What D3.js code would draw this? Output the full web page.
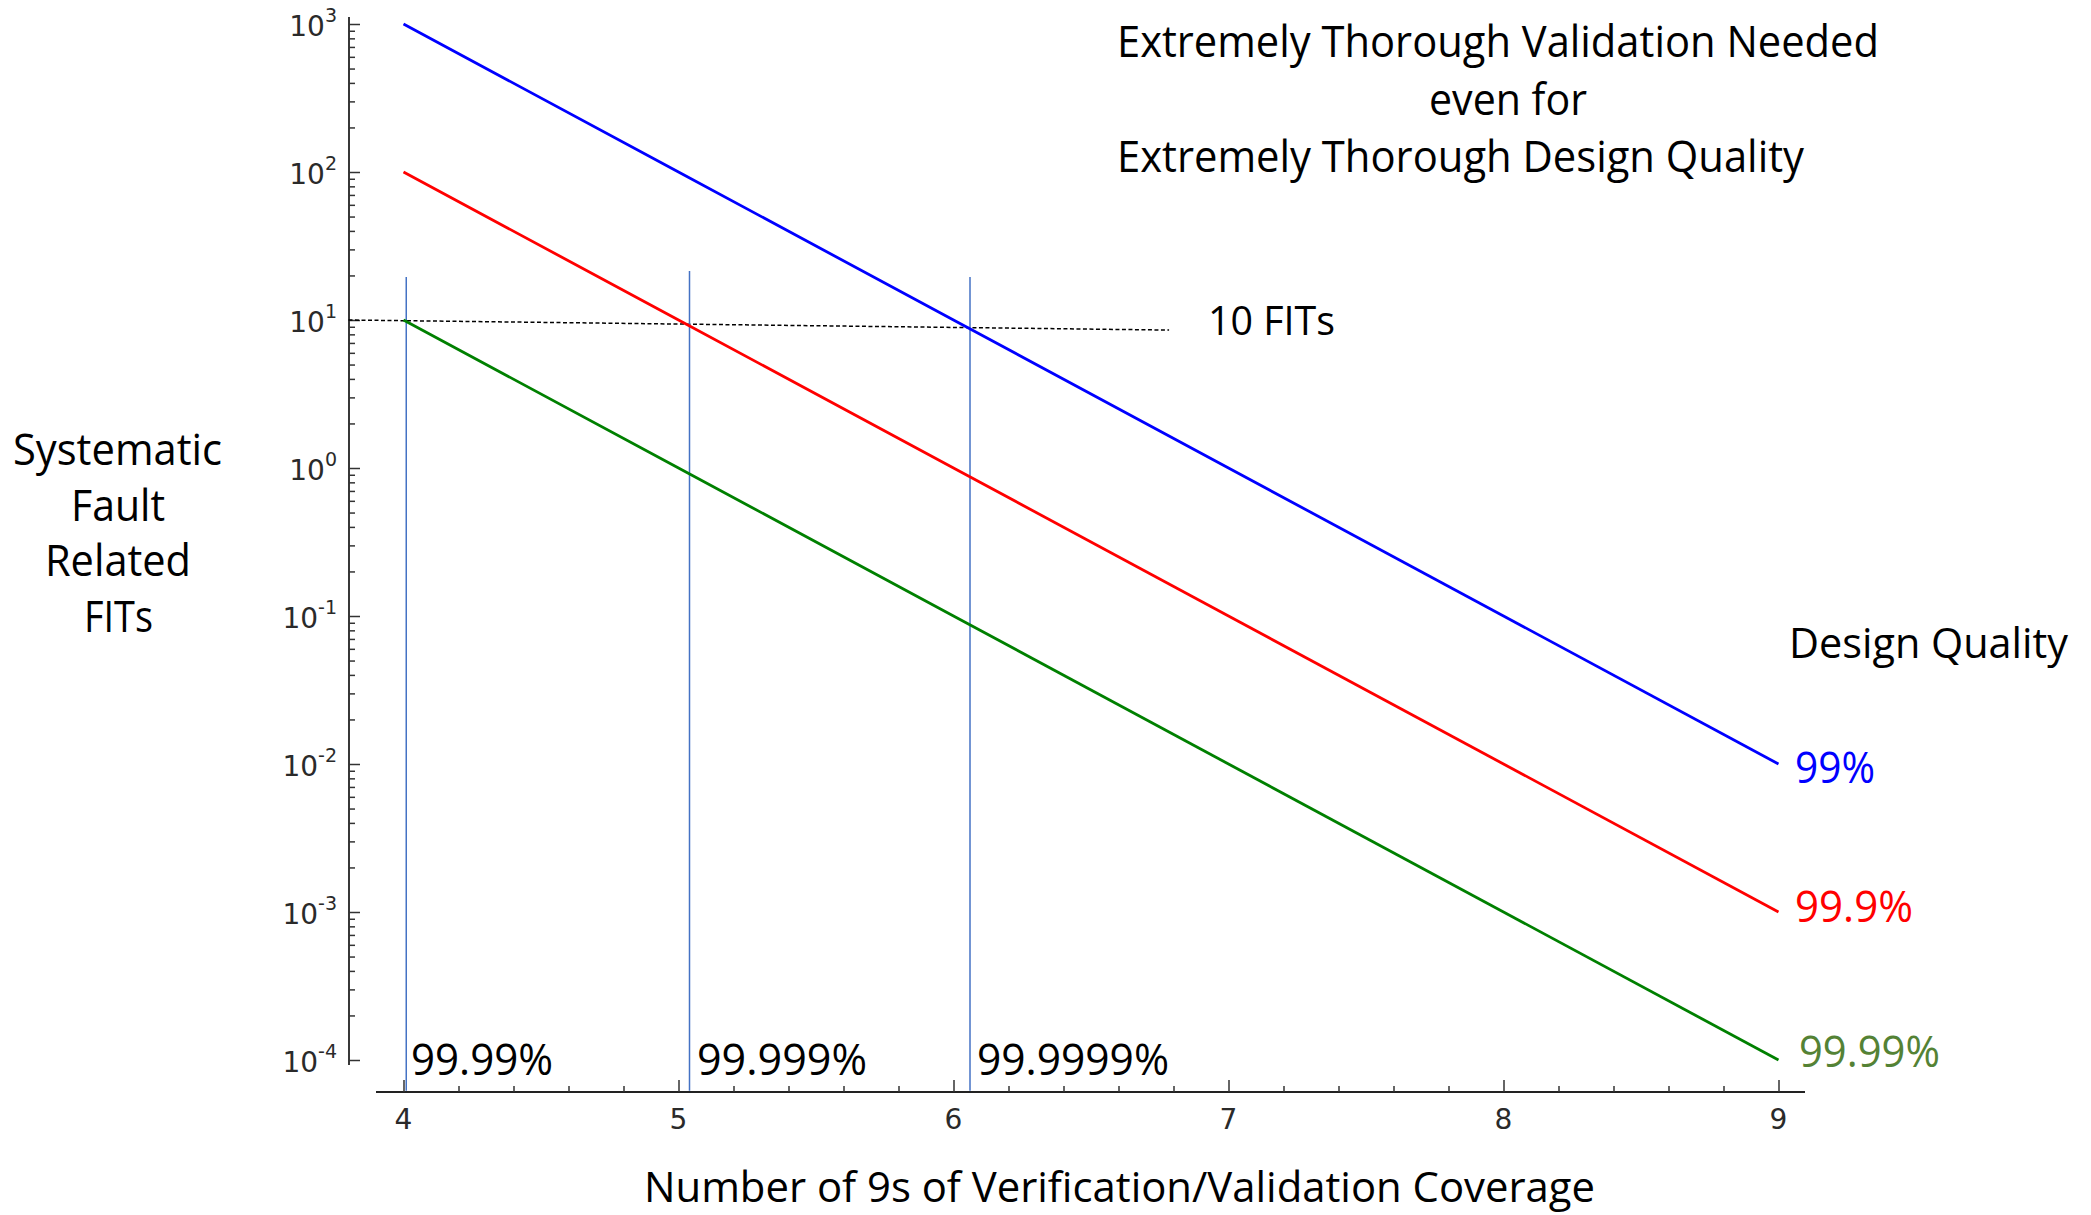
<!DOCTYPE html>
<html><head><meta charset="utf-8">
<script src="https://cdn.jsdelivr.net/npm/d3@7"></script>
<style>html,body{margin:0;padding:0;background:#fff;} svg{display:block}</style>
</head><body>
<script>
// ---- data ----
const coverageNines = [4, 5, 6, 7, 8, 9];
const designQualities = ["99%", "99.9%", "99.99%"];
const fits99 = [1000, 100, 10, 1, 0.1, 0.01];
const fits999 = [100, 10, 1, 0.1, 0.01, 0.001];
const fits9999 = [10, 1, 0.1, 0.01, 0.001, 0.0001];
const yTickExponents = [3, 2, 1, 0, -1, -2, -3, -4];
const xTickLabels = ["4", "5", "6", "7", "8", "9"];
const coverageLabels = ["99.99%", "99.999%", "99.9999%"];
const markerX = [4.01, 5.04, 6.06];
const markerTop = [19.5, 21.4, 19.5];
const markerBottom = 6.2e-5;
const fitLimitX = [3.80, 6.784];
const fitLimitY = [10, 8.55];

// ---- layout ----
const W = 2091, H = 1215;
const svg = d3.select("body").append("svg").attr("width", W).attr("height", H);
const x = d3.scaleLinear([4, 9], [403.5, 1778.5]);
const y = d3.scaleLog([1e-4, 1e3], [1060, 24]);
const AX = 349, AY = 1092;
const tickFont = "'DejaVu Sans', sans-serif";
const txtFont = "'Open Sans', sans-serif";

// axis lines
svg.append("line").attr("x1", AX).attr("x2", AX).attr("y1", 17).attr("y2", 1065)
  .attr("stroke", "#222").attr("stroke-width", 1.8);
svg.append("line").attr("x1", 376).attr("x2", 1805).attr("y1", AY).attr("y2", AY)
  .attr("stroke", "#222").attr("stroke-width", 1.8);

// y ticks
const majorY = yTickExponents.map(e => Math.pow(10, e));
const minorY = [];
for (let k = -4; k < 3; k++) for (let m = 2; m <= 9; m++) minorY.push(m * Math.pow(10, k));
function styleAxis(g) {
  g.select(".domain").remove();
  g.selectAll(".tick line").attr("stroke", "#333").attr("stroke-width", 1.5);
  g.selectAll(".tick text").remove();
}
svg.append("g").attr("transform", `translate(${AX},0)`)
  .call(d3.axisLeft(y).tickValues(majorY).tickSize(-11).tickFormat("")).call(styleAxis);
svg.append("g").attr("transform", `translate(${AX},0)`)
  .call(d3.axisLeft(y).tickValues(minorY).tickSize(-6).tickFormat("")).call(styleAxis);

// y tick labels
yTickExponents.forEach(e => {
  const t = svg.append("text").attr("x", 337).attr("y", y(Math.pow(10, e)) + 12)
    .attr("text-anchor", "end").attr("font-family", tickFont).attr("fill", "#2a2a2a");
  t.append("tspan").attr("font-size", 28).text("10");
  t.append("tspan").attr("font-size", 19).attr("dy", -14).text(String(e));
});

// x ticks
const minorX = d3.range(4, 9.001, 0.2).filter(v => Math.abs(v - Math.round(v)) > 1e-6);
svg.append("g").attr("transform", `translate(0,${AY})`)
  .call(d3.axisBottom(x).tickValues(coverageNines).tickSize(-12).tickFormat("")).call(styleAxis);
svg.append("g").attr("transform", `translate(0,${AY})`)
  .call(d3.axisBottom(x).tickValues(minorX).tickSize(-6).tickFormat("")).call(styleAxis);
coverageNines.forEach((v, i) => {
  svg.append("text").attr("x", x(v)).attr("y", 1129).attr("text-anchor", "middle")
    .attr("font-family", tickFont).attr("font-size", 28).attr("fill", "#2a2a2a").text(xTickLabels[i]);
});

// dashed 10 FIT line
svg.append("line")
  .attr("x1", x(fitLimitX[0])).attr("y1", y(fitLimitY[0]))
  .attr("x2", x(fitLimitX[1])).attr("y2", y(fitLimitY[1]))
  .attr("stroke", "#000").attr("stroke-width", 1.5).attr("stroke-dasharray", "4,2.5");

// vertical markers
markerX.forEach((v, i) => {
  svg.append("line").attr("x1", x(v)).attr("x2", x(v))
    .attr("y1", y(markerTop[i])).attr("y2", y(markerBottom))
    .attr("stroke", "#4472c4").attr("stroke-width", 1.5);
});

// series
const series = [
  { vals: fits99, color: "#0000ff" },
  { vals: fits999, color: "#ff0000" },
  { vals: fits9999, color: "#008000" }
];
const line = d3.line().x((d, i) => x(coverageNines[i])).y(d => y(d));
series.forEach(s => {
  svg.append("path").attr("d", line(s.vals)).attr("fill", "none")
    .attr("stroke", s.color).attr("stroke-width", 2.8);
});

// text helper
function label(str, x0, x1, base, size, color) {
  svg.append("text").attr("x", x0).attr("y", base)
    .attr("font-family", txtFont).attr("font-size", size).attr("fill", color || "#000")
    .attr("textLength", x1 - x0).attr("lengthAdjust", "spacingAndGlyphs").text(str);
}
label("Extremely Thorough Validation Needed", 1117, 1879, 57, 44);
label("even for", 1429, 1587, 115, 44);
label("Extremely Thorough Design Quality", 1117, 1804, 172, 44);

label("Systematic", 13, 222, 465, 43);
label("Fault", 71, 165, 521, 43);
label("Related", 45, 191, 576, 43);
label("FITs", 84, 153, 632, 43);

label("10 FITs", 1208, 1335, 335, 40);
label("Number of 9s of Verification/Validation Coverage", 644, 1595, 1202, 42);

const covRanges = [[411, 553], [697, 867], [977, 1169]];
coverageLabels.forEach((t, i) => label(t, covRanges[i][0], covRanges[i][1], 1075, 44));

label("Design Quality", 1789, 2068, 658, 42);
const dqRanges = [[1795, 1875, 783, "#0000ff"], [1795, 1913, 922, "#ff0000"], [1799, 1940, 1067, "#548235"]];
designQualities.forEach((t, i) => label(t, dqRanges[i][0], dqRanges[i][1], dqRanges[i][2], 43, dqRanges[i][3]));
</script>
</body></html>
